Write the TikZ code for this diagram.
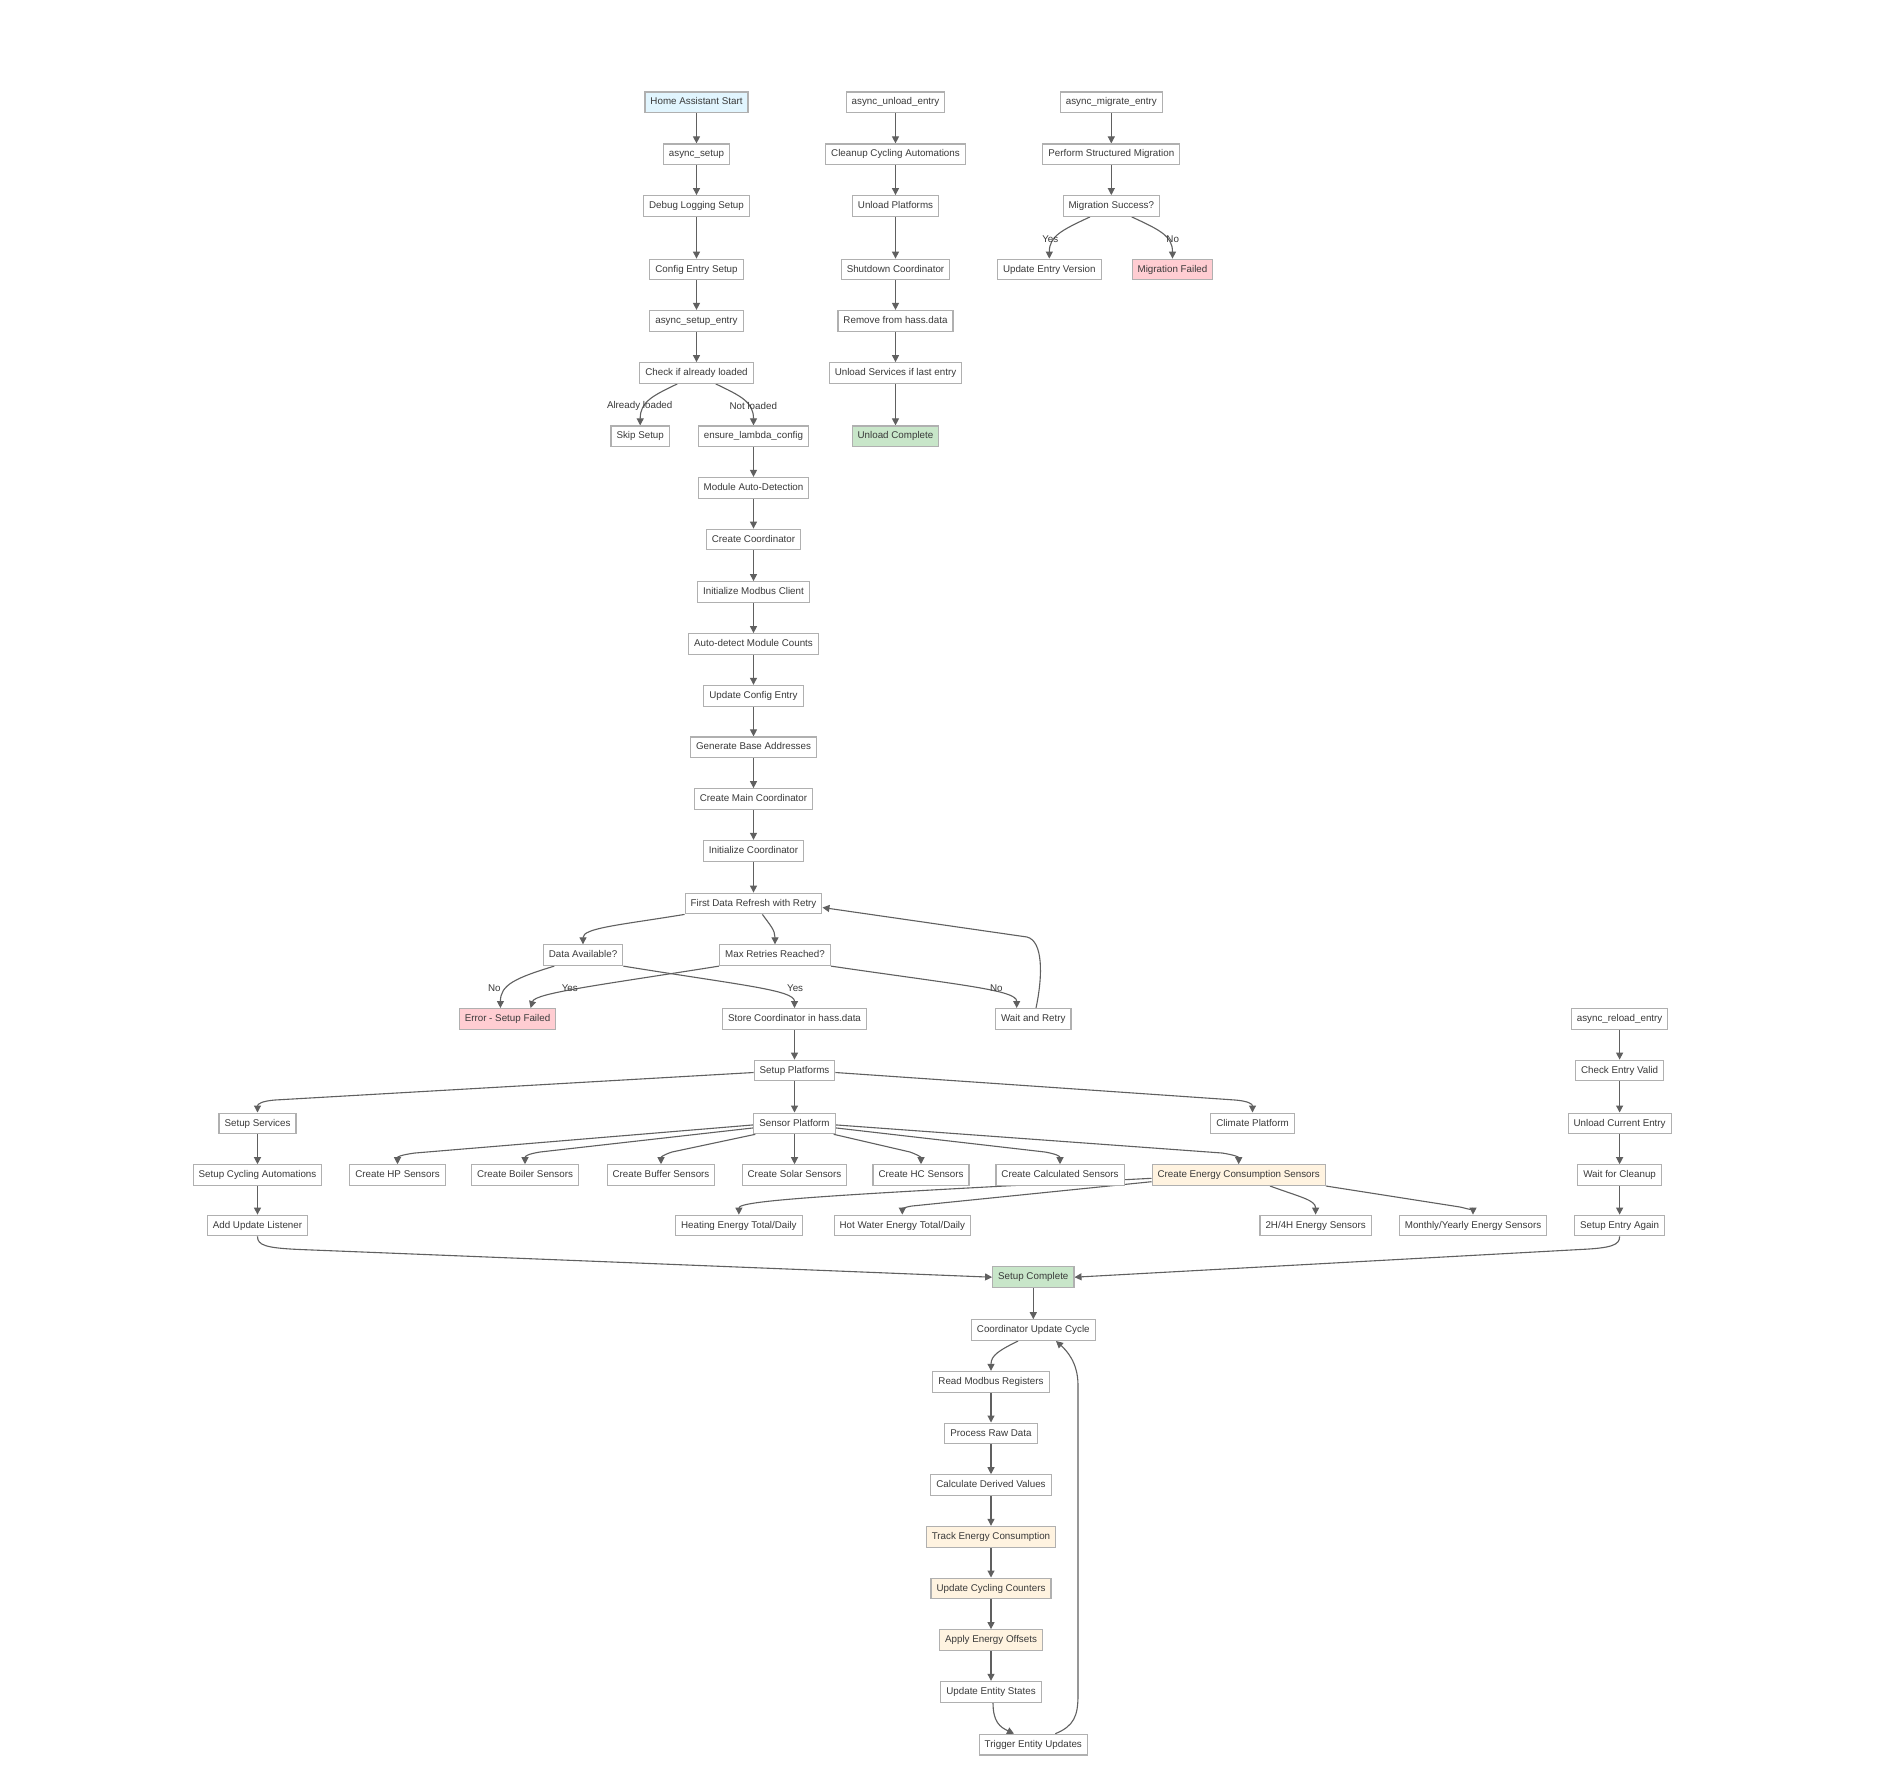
\documentclass[tikz,border=0pt]{standalone}
\usepackage{fontspec}
\setmainfont{Liberation Sans}
\usetikzlibrary{arrows.meta}
\definecolor{edgec}{HTML}{606060}
\definecolor{boxborder}{HTML}{B0B0B0}
\definecolor{textc}{HTML}{3A3A3A}
\definecolor{fblue}{HTML}{E1F5FE}
\definecolor{fgreen}{HTML}{C8E6C9}
\definecolor{fpink}{HTML}{FFCDD2}
\definecolor{forange}{HTML}{FFF3E0}
\pgfdeclarelayer{bgzero}
\pgfdeclarelayer{edgelayer}
\pgfsetlayers{bgzero,edgelayer,main}
\begin{document}
\begin{tikzpicture}[x=1pt,y=-1pt,
  box/.style={draw=boxborder, line width=1.1pt, fill=white, text=textc,
    font=\fontsize{9.8}{11}\selectfont, inner xsep=5.5pt, inner ysep=0pt,
    minimum height=20.7pt, text height=7.3pt, text depth=2.1pt},
  bluebox/.style={box, fill=fblue},
  greenbox/.style={box, fill=fgreen},
  pinkbox/.style={box, fill=fpink},
  orangebox/.style={box, fill=forange},
  elabel/.style={text=textc, font=\fontsize{9.8}{11}\selectfont, inner sep=0pt},
  arr/.style={draw=edgec, line width=1.1pt, -{Triangle[length=7pt,width=7pt]}}
]
\begin{pgfonlayer}{bgzero}
\fill[white] (0,0) rectangle (1884,1788);
\end{pgfonlayer}
\useasboundingbox (0,0) rectangle (1884,1788);

% main setup column
\node[bluebox] (has) at (696.5,102.3) {Home Assistant Start};
\node[box] (asetup) at (696.5,154.3) {async\_setup};
\node[box] (debug) at (696.5,206) {Debug Logging Setup};
\node[box] (config) at (696.5,269.5) {Config Entry Setup};
\node[box] (aentry) at (696.5,320.8) {async\_setup\_entry};
\node[box] (check) at (696.5,373) {Check if already loaded};
\node[box] (skip) at (640.2,436.3) {Skip Setup};
\node[box] (ensure) at (753.5,436.3) {ensure\_lambda\_config};
\node[box] (modauto) at (753.5,487.8) {Module Auto-Detection};
\node[box] (createc) at (753.5,539.5) {Create Coordinator};
\node[box] (initm) at (753.5,592) {Initialize Modbus Client};
\node[box] (autod) at (753.5,644) {Auto-detect Module Counts};
\node[box] (updcfg) at (753.5,695.7) {Update Config Entry};
\node[box] (genbase) at (753.5,747.3) {Generate Base Addresses};
\node[box] (createmain) at (753.5,799) {Create Main Coordinator};
\node[box] (initc) at (753.5,850.7) {Initialize Coordinator};
\node[box] (fdr) at (753.5,903.5) {First Data Refresh with Retry};
\node[box] (davail) at (583,955.2) {Data Available?};
\node[box] (maxr) at (775,955.2) {Max Retries Reached?};
\node[pinkbox] (err) at (507.5,1018.9) {Error - Setup Failed};
\node[box] (store) at (794.5,1018.9) {Store Coordinator in hass.data};
\node[box] (wait) at (1033.3,1018.9) {Wait and Retry};
\node[box] (splat) at (794.5,1070.5) {Setup Platforms};
\node[box] (ssvc) at (257.5,1123.4) {Setup Services};
\node[box] (sensor) at (794.5,1123.4) {Sensor Platform};
\node[box] (climate) at (1252.5,1123.4) {Climate Platform};
\node[box] (scyc) at (257.5,1175.1) {Setup Cycling Automations};
\node[box] (hp) at (397.5,1175.1) {Create HP Sensors};
\node[box] (boiler) at (525,1175.1) {Create Boiler Sensors};
\node[box] (buffer) at (661,1175.1) {Create Buffer Sensors};
\node[box] (solar) at (794.5,1175.1) {Create Solar Sensors};
\node[box] (hc) at (921,1175.1) {Create HC Sensors};
\node[box] (calc) at (1060,1175.1) {Create Calculated Sensors};
\node[orangebox] (energy) at (1238.7,1175.1) {Create Energy Consumption Sensors};
\node[box] (aul) at (257.5,1225.5) {Add Update Listener};
\node[box] (heat) at (738.9,1225.5) {Heating Energy Total/Daily};
\node[box] (hotw) at (902.3,1225.5) {Hot Water Energy Total/Daily};
\node[box] (h24) at (1315.6,1225.5) {2H/4H Energy Sensors};
\node[box] (monthly) at (1473,1225.5) {Monthly/Yearly Energy Sensors};
\node[greenbox] (scomp) at (1033.3,1277.2) {Setup Complete};
\node[box] (cuc) at (1033.3,1330.1) {Coordinator Update Cycle};
\node[box] (rmb) at (991,1381.7) {Read Modbus Registers};
\node[box] (prd) at (991,1433.4) {Process Raw Data};
\node[box] (cdv) at (991,1485.1) {Calculate Derived Values};
\node[orangebox] (tec) at (991,1536.7) {Track Energy Consumption};
\node[orangebox] (ucc) at (991,1588.4) {Update Cycling Counters};
\node[orangebox] (aeo) at (991,1640) {Apply Energy Offsets};
\node[box] (ues) at (991,1691.7) {Update Entity States};
\node[box] (teu) at (1033.3,1744.6) {Trigger Entity Updates};

% unload column
\node[box] (uentry) at (895.5,102.3) {async\_unload\_entry};
\node[box] (cleanup) at (895.5,154.3) {Cleanup Cycling Automations};
\node[box] (uplat) at (895.5,206) {Unload Platforms};
\node[box] (shut) at (895.5,269.5) {Shutdown Coordinator};
\node[box] (remove) at (895.5,320.8) {Remove from hass.data};
\node[box] (usvc) at (895.5,373) {Unload Services if last entry};
\node[greenbox] (ucomp) at (895.5,436.3) {Unload Complete};

% migrate column
\node[box] (mentry) at (1111.3,102.3) {async\_migrate\_entry};
\node[box] (perform) at (1111.3,154.3) {Perform Structured Migration};
\node[box] (msucc) at (1111.3,206) {Migration Success?};
\node[box] (uev) at (1049.3,269.5) {Update Entry Version};
\node[pinkbox] (mfail) at (1172.5,269.5) {Migration Failed};

% reload column
\node[box] (rentry) at (1619.6,1018.9) {async\_reload\_entry};
\node[box] (cev) at (1619.6,1070.5) {Check Entry Valid};
\node[box] (uce) at (1619.6,1123.4) {Unload Current Entry};
\node[box] (wfc) at (1619.6,1175.1) {Wait for Cleanup};
\node[box] (sea) at (1619.6,1225.5) {Setup Entry Again};

% edge labels
\node[elabel] (l1) at (639.7,405.7) {Already loaded};
\node[elabel] (l2) at (753.3,405.7) {Not loaded};
\node[elabel] (l3) at (1050.3,238.7) {Yes};
\node[elabel] (l4) at (1172.7,238.7) {No};
\node[elabel] (l5) at (494.3,987.7) {No};
\node[elabel] (l6) at (569.8,987.7) {Yes};
\node[elabel] (l7) at (795.1,987.7) {Yes};
\node[elabel] (l8) at (996.3,987.7) {No};

\begin{pgfonlayer}{edgelayer}
\draw[arr] (has) -- (asetup);
\draw[arr] (asetup) -- (debug);
\draw[arr] (debug) -- (config);
\draw[arr] (config) -- (aentry);
\draw[arr] (aentry) -- (check);
\draw[arr] ([xshift=-19.2pt]check.south) .. controls (652,396) and (640.2,402) .. (skip.north);
\draw[arr] ([xshift=19.2pt]check.south) .. controls (741,396) and (753.5,402) .. (ensure.north);
\draw[arr] (ensure) -- (modauto);
\draw[arr] (modauto) -- (createc);
\draw[arr] (createc) -- (initm);
\draw[arr] (initm) -- (autod);
\draw[arr] (autod) -- (updcfg);
\draw[arr] (updcfg) -- (genbase);
\draw[arr] (genbase) -- (createmain);
\draw[arr] (createmain) -- (initc);
\draw[arr] (initc) -- (fdr);
\draw[arr] (fdr.south west) .. controls (620,925) and (583,928) .. (davail.north);
\draw[arr] ([xshift=8.9pt]fdr.south) .. controls (770,925) and (775,930) .. (maxr.north);
\draw[arr] ([xshift=-28.7pt]davail.south) .. controls (515,978) and (500.4,985) .. ([xshift=-7.1pt]err.north);
\draw[arr] (davail.south east) .. controls (740,985) and (794.5,990) .. (store.north);
\draw[arr] (maxr.south west) .. controls (600,985) and (535,993) .. ([xshift=23.1pt]err.north);
\draw[arr] (maxr.south east) .. controls (960,985) and (1016.7,990) .. ([xshift=-16.6pt]wait.north);
\draw[arr] ([xshift=2.7pt]wait.north) .. controls (1043,975) and (1043,941) .. (1027,937) -- ([yshift=-4pt]fdr.east);
\draw[arr] (store) -- (splat);
\draw[arr] ([yshift=-2pt]splat.west) -- (275,1100) .. controls (262,1101) and (257.5,1104) .. (ssvc.north);
\draw[arr] (splat) -- (sensor);
\draw[arr] ([yshift=-2pt]splat.east) -- (1235,1100) .. controls (1248,1101) and (1252.5,1104) .. (climate.north);
\draw[arr] (ssvc) -- (scyc);
\draw[arr] (scyc) -- (aul);
\draw[arr] ([yshift=-1.5pt]sensor.west) -- (415,1153) .. controls (400,1155) and (397.5,1157) .. (hp.north);
\draw[arr] ([yshift=-4.5pt]sensor.west) -- (540,1152) .. controls (528,1154) and (525,1156) .. (boiler.north);
\draw[arr] ([xshift=2pt]sensor.south west) -- (672,1152) .. controls (663,1155) and (661,1157) .. (buffer.north);
\draw[arr] (sensor) -- (solar);
\draw[arr] ([xshift=-2pt]sensor.south east) -- (910,1152) .. controls (918,1155) and (921,1157) .. (hc.north);
\draw[arr] ([yshift=-4.5pt]sensor.east) -- (1045,1152) .. controls (1056,1154) and (1060,1156) .. (calc.north);
\draw[arr] ([yshift=-1.5pt]sensor.east) -- (1222,1153) .. controls (1235,1155) and (1238.7,1157) .. (energy.north);
\draw[arr] ([yshift=-3.2pt]energy.west) .. controls (850,1194) and (738.9,1200) .. (heat.north);
\draw[arr] ([yshift=-6.6pt]energy.west) -- (912,1206) .. controls (905,1207) and (902.3,1209) .. (hotw.north);
\draw[arr] ([xshift=31.3pt]energy.south) .. controls (1300,1197) and (1315.6,1200) .. (h24.north);
\draw[arr] (energy.south east) -- (1460,1207) .. controls (1469,1209) and (1473,1211) .. (monthly.north);
\draw[arr] (aul.south) .. controls (257.5,1245) and (265,1248) .. (300,1249.5) -- (scomp.west);
\draw[arr] (sea.south) .. controls (1619.6,1245) and (1612,1248) .. (1580,1249.5) -- (scomp.east);
\draw[arr] (scomp) -- (cuc);
\draw[arr] ([xshift=-15.3pt]cuc.south) .. controls (1000,1350) and (991,1355) .. (rmb.north);
\draw[arr] (rmb) -- (prd);
\draw[arr] (prd) -- (cdv);
\draw[arr] (cdv) -- (tec);
\draw[arr] (tec) -- (ucc);
\draw[arr] (ucc) -- (aeo);
\draw[arr] (aeo) -- (ues);
\draw[arr] ([xshift=2pt]ues.south) .. controls (993,1722) and (1000,1727) .. ([xshift=-19.3pt]teu.north);
\draw[arr] ([xshift=22pt]teu.north) .. controls (1074,1726) and (1078,1716) .. (1078,1695) -- (1078,1385) .. controls (1078,1362) and (1066,1350) .. ([xshift=22.7pt]cuc.south);
% unload
\draw[arr] (uentry) -- (cleanup);
\draw[arr] (cleanup) -- (uplat);
\draw[arr] (uplat) -- (shut);
\draw[arr] (shut) -- (remove);
\draw[arr] (remove) -- (usvc);
\draw[arr] (usvc) -- (ucomp);
% migrate
\draw[arr] (mentry) -- (perform);
\draw[arr] (perform) -- (msucc);
\draw[arr] ([xshift=-21.3pt]msucc.south) .. controls (1062,230) and (1049.3,236) .. (uev.north);
\draw[arr] ([xshift=20.4pt]msucc.south) .. controls (1160,230) and (1172.5,236) .. (mfail.north);
% reload
\draw[arr] (rentry) -- (cev);
\draw[arr] (cev) -- (uce);
\draw[arr] (uce) -- (wfc);
\draw[arr] (wfc) -- (sea);
\end{pgfonlayer}
\end{tikzpicture}
\end{document}
